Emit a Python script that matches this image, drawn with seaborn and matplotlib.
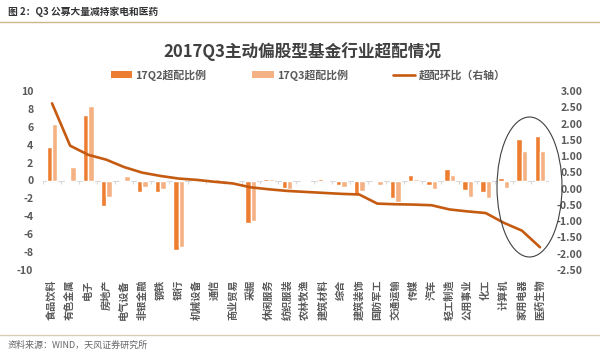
import numpy as np
import pandas as pd
import matplotlib
matplotlib.use("Agg")
import matplotlib.pyplot as plt
import seaborn as sns
from matplotlib.patches import Ellipse, Patch
from matplotlib.lines import Line2D

categories = ["食品饮料", "有色金属", "电子", "房地产", "电气设备", "非银金融", "钢铁", "银行",
              "机械设备", "通信", "商业贸易", "采掘", "休闲服务", "纺织服装", "农林牧渔", "建筑材料",
              "综合", "建筑装饰", "国防军工", "交通运输", "传媒", "汽车", "轻工制造", "公用事业",
              "化工", "计算机", "家用电器", "医药生物"]
q2_values = [3.7, 0.1, 7.3, -2.8, -0.1, -1.3, -1.3, -7.8, -0.05, 0.05, 0.05, -4.7, 0.2, -0.8,
             -0.1, 0.2, -0.5, -1.5, -0.05, -1.9, 0.6, -0.5, 1.3, -1.1, -1.3, 0.3, 4.6, 5.0]
q3_values = [6.3, 1.55, 8.3, -1.85, 0.5, -0.75, -0.9, -7.4, -0.1, 0.15, 0.1, -4.5, 0.15, -0.9,
             -0.2, 0.1, -0.7, -1.2, -0.5, -2.4, 0.2, -1.0, 0.6, -1.85, -2.0, -0.8, 3.3, 3.25]
mom_values = [2.62, 1.32, 1.04, 0.89, 0.66, 0.49, 0.39, 0.31, 0.27, 0.21, 0.16, 0.04, -0.02, -0.07,
              -0.10, -0.13, -0.16, -0.18, -0.46, -0.48, -0.49, -0.51, -0.64, -0.70, -0.75, -1.05,
              -1.29, -1.80]
series_names = ["17Q2超配比例", "17Q3超配比例", "超配环比（右轴）"]
left_ticks = [-10, -8, -6, -4, -2, 0, 2, 4, 6, 8, 10]
right_ticks = [-2.5, -2.0, -1.5, -1.0, -0.5, 0.0, 0.5, 1.0, 1.5, 2.0, 2.5, 3.0]

title = "2017Q3主动偏股型基金行业超配情况"
header = "图 2：Q3 公募大量减持家电和医药"
footer = "资料来源：WIND，天风证券研究所"

C2 = "#ED7D31"
C3 = "#F4B183"
CL = "#C55A11"
GRAY = "#595959"

sns.set_theme(style="white")
plt.rcParams["font.family"] = ["Noto Sans CJK SC", "DejaVu Sans"]
plt.rcParams["axes.unicode_minus"] = False

W, H = 600, 352
fig = plt.figure(figsize=(6, 3.52), dpi=100)
fig.patch.set_facecolor("white")
ax = fig.add_axes([43 / W, 1 - 270 / H, (549 - 43) / W, (270 - 91) / H])

n = len(categories)
df = pd.DataFrame({
    "行业": categories * 2,
    "值": q2_values + q3_values,
    "系列": [series_names[0]] * n + [series_names[1]] * n,
})
sns.barplot(data=df, x="行业", y="值", hue="系列", order=categories,
            hue_order=series_names[:2], palette=[C2, C3], saturation=1,
            width=0.6, gap=0, ax=ax, legend=False, zorder=2)
ax.set_xlim(-0.5, n - 0.5)
ax.set_ylim(-10, 10)
ax.set_xlabel("")
ax.set_ylabel("")
ax.axhline(0, color="#D9D9D9", lw=0.8, zorder=1)
ax.vlines(np.arange(n + 1) - 0.5, -0.35, 0, color="#D9D9D9", lw=0.8, zorder=1)

ax.set_xticks(range(n))
ax.set_xticklabels(categories, rotation=90, fontsize=7.3, color=GRAY, fontweight="bold")
ax.set_yticks(left_ticks)
ax.set_yticklabels([str(t) for t in left_ticks], fontsize=7.6, color=GRAY, fontweight="bold")
ax.tick_params(axis="x", length=0, pad=7)
ax.tick_params(axis="y", length=0, pad=7)
for s in ax.spines.values():
    s.set_visible(False)

ax2 = ax.twinx()
sns.lineplot(x=np.arange(n), y=mom_values, ax=ax2, color=CL, lw=1.9, legend=False, zorder=3)
ax2.set_ylim(-2.5, 3.0)
ax2.set_yticks(right_ticks)
ax2.set_yticklabels([f"{t:.2f}" for t in right_ticks], fontsize=7.6, color=GRAY, fontweight="bold")
ax2.tick_params(axis="y", length=0, pad=24)
for lab in ax2.get_yticklabels():
    lab.set_ha("right")
for s in ax2.spines.values():
    s.set_visible(False)
ax2.grid(False)
ax.grid(False)

# annotation ellipse
fig.add_artist(Ellipse((529.5 / W, 1 - 187 / H), 65 / W, 140 / H, transform=fig.transFigure,
                       fill=False, edgecolor="#404040", lw=0.8))

# title, legend
fig.text(302 / W, 1 - 52 / H, title, ha="center", va="center", fontsize=12,
         fontweight="bold", color="#404040")
handles = [Patch(facecolor=C2, edgecolor="none"), Patch(facecolor=C3, edgecolor="none"),
           Line2D([], [], color=CL, lw=1.9)]
fig.legend(handles, series_names, loc="center", bbox_to_anchor=(308 / W, 1 - 75 / H), ncol=3,
           frameon=False, prop={"size": 7.8, "weight": "bold"}, labelcolor=GRAY,
           handlelength=2.0, handleheight=0.65, handletextpad=0.3, columnspacing=4.2)

# header / footer
fig.text(8 / W, 1 - 12 / H, header, ha="left", va="center", fontsize=7, fontweight="bold",
         color="#333333")
fig.add_artist(Line2D([0, 1], [1 - 22 / H] * 2, transform=fig.transFigure, color="#C9B68C", lw=1))
fig.add_artist(Line2D([0, 1], [1 - 335 / H] * 2, transform=fig.transFigure, color="#D8CDB4", lw=1))
fig.text(8 / W, 1 - 345 / H, footer, ha="left", va="center", fontsize=6.5, color="#666666")

fig.savefig("out.png", dpi=100, facecolor="white")
